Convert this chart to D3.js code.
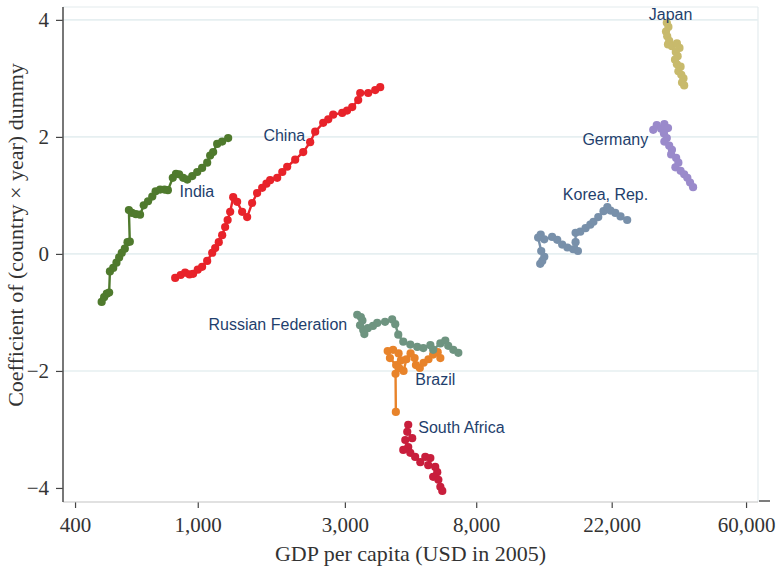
<!DOCTYPE html>
<html>
<head>
<meta charset="utf-8">
<script src="https://cdn.jsdelivr.net/npm/d3@7"></script>
<style>
  body { margin: 0; background: #fff; }
</style>
</head>
<body>
<div id="chart"></div>
<script>

// each point: [GDP per capita (USD in 2005), coefficient of country x year dummy]

let india = [
  [488, -0.82], [497, -0.74], [507, -0.68], [516, -0.66], [519, -0.30], [532, -0.24],
  [545, -0.15], [556, -0.06], [567, 0.02], [580, 0.09], [592, 0.20], [602, 0.21],
  [598, 0.75], [612, 0.70], [630, 0.68], [650, 0.67], [668, 0.83], [690, 0.90],
  [712, 0.98], [730, 1.07], [755, 1.10], [780, 1.10], [800, 1.09], [830, 1.30],
  [850, 1.37], [870, 1.36], [897, 1.30], [925, 1.27], [960, 1.33], [996, 1.40],
  [1033, 1.47], [1073, 1.56], [1097, 1.68], [1122, 1.74], [1156, 1.88], [1200, 1.92],
  [1255, 1.98]
];

let china = [
  [845, -0.41], [880, -0.36], [910, -0.32], [940, -0.35], [966, -0.34], [1000, -0.27],
  [1033, -0.22], [1073, -0.12], [1114, 0.02], [1139, 0.10], [1170, 0.20], [1200, 0.32],
  [1227, 0.46], [1250, 0.58], [1274, 0.72], [1303, 0.97], [1342, 0.89], [1393, 0.72],
  [1446, 0.63], [1501, 0.87], [1558, 1.04], [1618, 1.13], [1670, 1.20], [1717, 1.26],
  [1810, 1.30], [1880, 1.40], [1950, 1.49], [2070, 1.61], [2198, 1.74], [2315, 1.91],
  [2404, 2.09], [2552, 2.24], [2650, 2.30], [2749, 2.38], [2941, 2.41], [3050, 2.45],
  [3169, 2.51], [3314, 2.63], [3364, 2.75], [3571, 2.75], [3763, 2.80], [3906, 2.85]
];

let japan = [
  [33200, 3.95], [33600, 3.88], [33000, 3.80], [33300, 3.72], [33800, 3.64], [33500, 3.58],
  [34500, 3.55], [35800, 3.60], [36500, 3.52], [35500, 3.45], [36000, 3.38], [35300, 3.32],
  [35800, 3.24], [36800, 3.20], [36200, 3.12], [37000, 3.06], [37600, 3.00], [37200, 2.93],
  [37800, 2.88]
];

let germany = [
  [30000, 2.12], [30800, 2.20], [31800, 2.14], [32600, 2.22], [33500, 2.15], [32500, 2.06],
  [33200, 1.98], [32600, 1.92], [33800, 1.85], [34500, 1.78], [34300, 1.70], [35600, 1.64],
  [36200, 1.56], [35400, 1.48], [36800, 1.42], [37800, 1.36], [38700, 1.30], [39500, 1.22],
  [40400, 1.14]
];

let korea = [
  [12900, -0.17], [13100, -0.12], [13300, -0.05], [13000, 0.05], [12700, 0.28], [12950, 0.33],
  [13300, 0.25], [14100, 0.29], [14650, 0.24], [15200, 0.16], [15800, 0.11], [16500, 0.08],
  [17100, 0.05], [16800, 0.20], [16800, 0.36], [17400, 0.38], [18100, 0.44], [18750, 0.50],
  [19200, 0.55], [19900, 0.63], [20700, 0.73], [21300, 0.80], [21800, 0.74], [22600, 0.70],
  [23500, 0.64], [24700, 0.58]
];

let russia = [
  [3290, -1.04], [3380, -1.08], [3420, -1.14], [3360, -1.22], [3440, -1.30], [3470, -1.37],
  [3560, -1.27], [3700, -1.23], [3820, -1.18], [4050, -1.16], [4270, -1.12], [4370, -1.20],
  [4470, -1.38], [4640, -1.50], [4890, -1.55], [5150, -1.59], [5390, -1.61], [5680, -1.56],
  [5800, -1.64], [6120, -1.53], [6350, -1.48], [6490, -1.57], [6740, -1.64], [7000, -1.69]
];

let brazil = [
  [4390, -2.70], [4380, -2.05], [4400, -1.90], [4200, -1.78], [4130, -1.66], [4300, -1.64],
  [4480, -1.70], [4560, -1.82], [4500, -1.95], [4650, -2.00], [4750, -1.80], [4900, -1.70],
  [5050, -1.78], [5100, -1.90], [5250, -1.95], [5400, -1.86], [5600, -1.80], [5800, -1.72],
  [6000, -1.68], [6120, -1.78]
];

let southAfrica = [
  [4815, -2.92], [4780, -3.04], [4960, -3.15], [4710, -3.18], [4815, -3.30], [4640, -3.35],
  [4890, -3.40], [5070, -3.47], [5270, -3.56], [5470, -3.47], [5680, -3.49], [5590, -3.61],
  [5890, -3.64], [5980, -3.73], [5800, -3.81], [6030, -3.86], [6120, -3.98], [6210, -4.05]
];

// country labels and where they sit (data units)
let labelNames = ["Japan", "Germany", "Korea, Rep.", "China", "India", "Russian Federation", "Brazil", "South Africa"];
let labelGdp = [40200, 28900, 28900, 2231, 873, 3053, 5074, 5190];
let labelCoef = [4.09, 1.95, 1.01, 2.03, 1.06, -1.21, -2.15, -2.97];

// tick labels
let xTicks = [400, 1000, 3000, 8000, 22000, 60000];
let yTicks = [-4, -2, 0, 2, 4];

let series = [
  { name: "Brazil", values: brazil, color: "#e8832a" },
  { name: "Russian Federation", values: russia, color: "#6e9480" },
  { name: "South Africa", values: southAfrica, color: "#c81e3c" },
  { name: "India", values: india, color: "#4f7a2d" },
  { name: "China", values: china, color: "#e8232a" },
  { name: "Korea, Rep.", values: korea, color: "#7890aa" },
  { name: "Germany", values: germany, color: "#9a8acb" },
  { name: "Japan", values: japan, color: "#c8ba6c" }
];

let labelAnchor = { "Japan": "end", "Germany": "end", "Korea, Rep.": "end", "China": "end",
  "India": "start", "Russian Federation": "end", "Brazil": "start", "South Africa": "start" };

let width = 776;
let height = 571;
let plot = { left: 63, right: 758, top: 7, bottom: 502 };

let x = d3.scaleLog()
  .domain([365.6, 65600])
  .range([plot.left, plot.right]);

let y = d3.scaleLinear()
  .domain([-4.24, 4.22])
  .range([plot.bottom, plot.top]);

let svg = d3.select("#chart")
  .append("svg")
    .attr("width", width)
    .attr("height", height);

// frame (top and right, light)

svg.append("line")
  .attr("x1", plot.left).attr("x2", plot.right)
  .attr("y1", plot.top).attr("y2", plot.top)
  .attr("stroke", "#e4ecee").attr("stroke-width", 1.2);

svg.append("line")
  .attr("x1", plot.right).attr("x2", plot.right)
  .attr("y1", plot.top).attr("y2", plot.bottom)
  .attr("stroke", "#e4ecee").attr("stroke-width", 1.2);

// horizontal grid lines

svg.selectAll(".ygrid")
  .data(yTicks.filter(d => d > -4))
  .join("line")
  .attr("class", "ygrid")
  .attr("x1", plot.left)
  .attr("x2", plot.right)
  .attr("y1", d => y(d))
  .attr("y2", d => y(d))
  .attr("stroke", "#e6eff1")
  .attr("stroke-width", 1.6);

// x axis

let xAxis = svg.append("g")
  .attr("transform", `translate(0,${plot.bottom})`)
  .call(d3.axisBottom(x)
    .tickValues(xTicks)
    .tickFormat(d3.format(","))
    .tickSize(6)
    .tickPadding(9))
  .call(g => g.select(".domain").remove());

xAxis.selectAll(".tick line").attr("stroke", "#444").attr("stroke-width", 1.2);
xAxis.selectAll(".tick text")
  .attr("fill", "#333")
  .style("font-family", "'Liberation Serif', 'Times New Roman', serif")
  .style("font-size", "21px");

svg.append("line")
  .attr("x1", plot.left).attr("x2", plot.right)
  .attr("y1", plot.bottom).attr("y2", plot.bottom)
  .attr("stroke", "#c4c4c4").attr("stroke-width", 1.2);

// little dark mark at the right end of the x axis
svg.append("line")
  .attr("x1", plot.right + 1).attr("x2", plot.right + 12)
  .attr("y1", plot.bottom - 1).attr("y2", plot.bottom - 1)
  .attr("stroke", "#444").attr("stroke-width", 1.4);

// y axis

let yAxis = svg.append("g")
  .attr("transform", `translate(${plot.left},0)`)
  .call(d3.axisLeft(y)
    .tickValues(yTicks)
    .tickSize(7)
    .tickPadding(7)
    .tickFormat(d => d < 0 ? "\u2212" + Math.abs(d) : d))
  .call(g => g.select(".domain").remove());

yAxis.selectAll(".tick line").attr("stroke", "#444").attr("stroke-width", 1.2);
yAxis.selectAll(".tick text")
  .attr("fill", "#333")
  .style("font-family", "'Liberation Serif', 'Times New Roman', serif")
  .style("font-size", "21px");

svg.append("line")
  .attr("x1", plot.left).attr("x2", plot.left)
  .attr("y1", plot.top).attr("y2", plot.bottom)
  .attr("stroke", "#555").attr("stroke-width", 1.6);

// axis titles

svg.append("text")
  .attr("x", (plot.left + plot.right) / 2)
  .attr("y", 561)
  .attr("text-anchor", "middle")
  .attr("fill", "#333")
  .style("font-family", "'Liberation Serif', 'Times New Roman', serif")
  .style("font-size", "22px")
  .text("GDP per capita (USD in 2005)");

svg.append("text")
  .attr("transform", "rotate(-90)")
  .attr("x", -235)
  .attr("y", 23)
  .attr("text-anchor", "middle")
  .attr("fill", "#333")
  .style("font-family", "'Liberation Serif', 'Times New Roman', serif")
  .style("font-size", "22px")
  .text("Coefficient of (country \u00d7 year) dummy");

// connected lines with markers

let line = d3.line()
  .x(d => x(d[0]))
  .y(d => y(d[1]));

let groups = svg.selectAll(".country")
  .data(series)
  .join("g")
  .attr("class", "country");

groups.append("path")
  .attr("d", d => line(d.values))
  .attr("fill", "none")
  .attr("stroke", d => d.color)
  .attr("stroke-width", 2.4);

groups.each(function (s) {
  d3.select(this).selectAll("circle")
    .data(s.values)
    .join("circle")
    .attr("cx", d => x(d[0]))
    .attr("cy", d => y(d[1]))
    .attr("r", 4.1)
    .attr("fill", s.color);
});

// country labels

svg.selectAll(".country-label")
  .data(labelNames)
  .join("text")
  .attr("class", "country-label")
  .attr("x", (d, i) => x(labelGdp[i]))
  .attr("y", (d, i) => y(labelCoef[i]))
  .attr("dy", "0.35em")
  .attr("text-anchor", d => labelAnchor[d])
  .attr("fill", "#1f3f6d")
  .style("font-family", "'Liberation Sans', Arial, sans-serif")
  .style("font-size", "16px")
  .text(d => d);

</script>
</body>
</html>
